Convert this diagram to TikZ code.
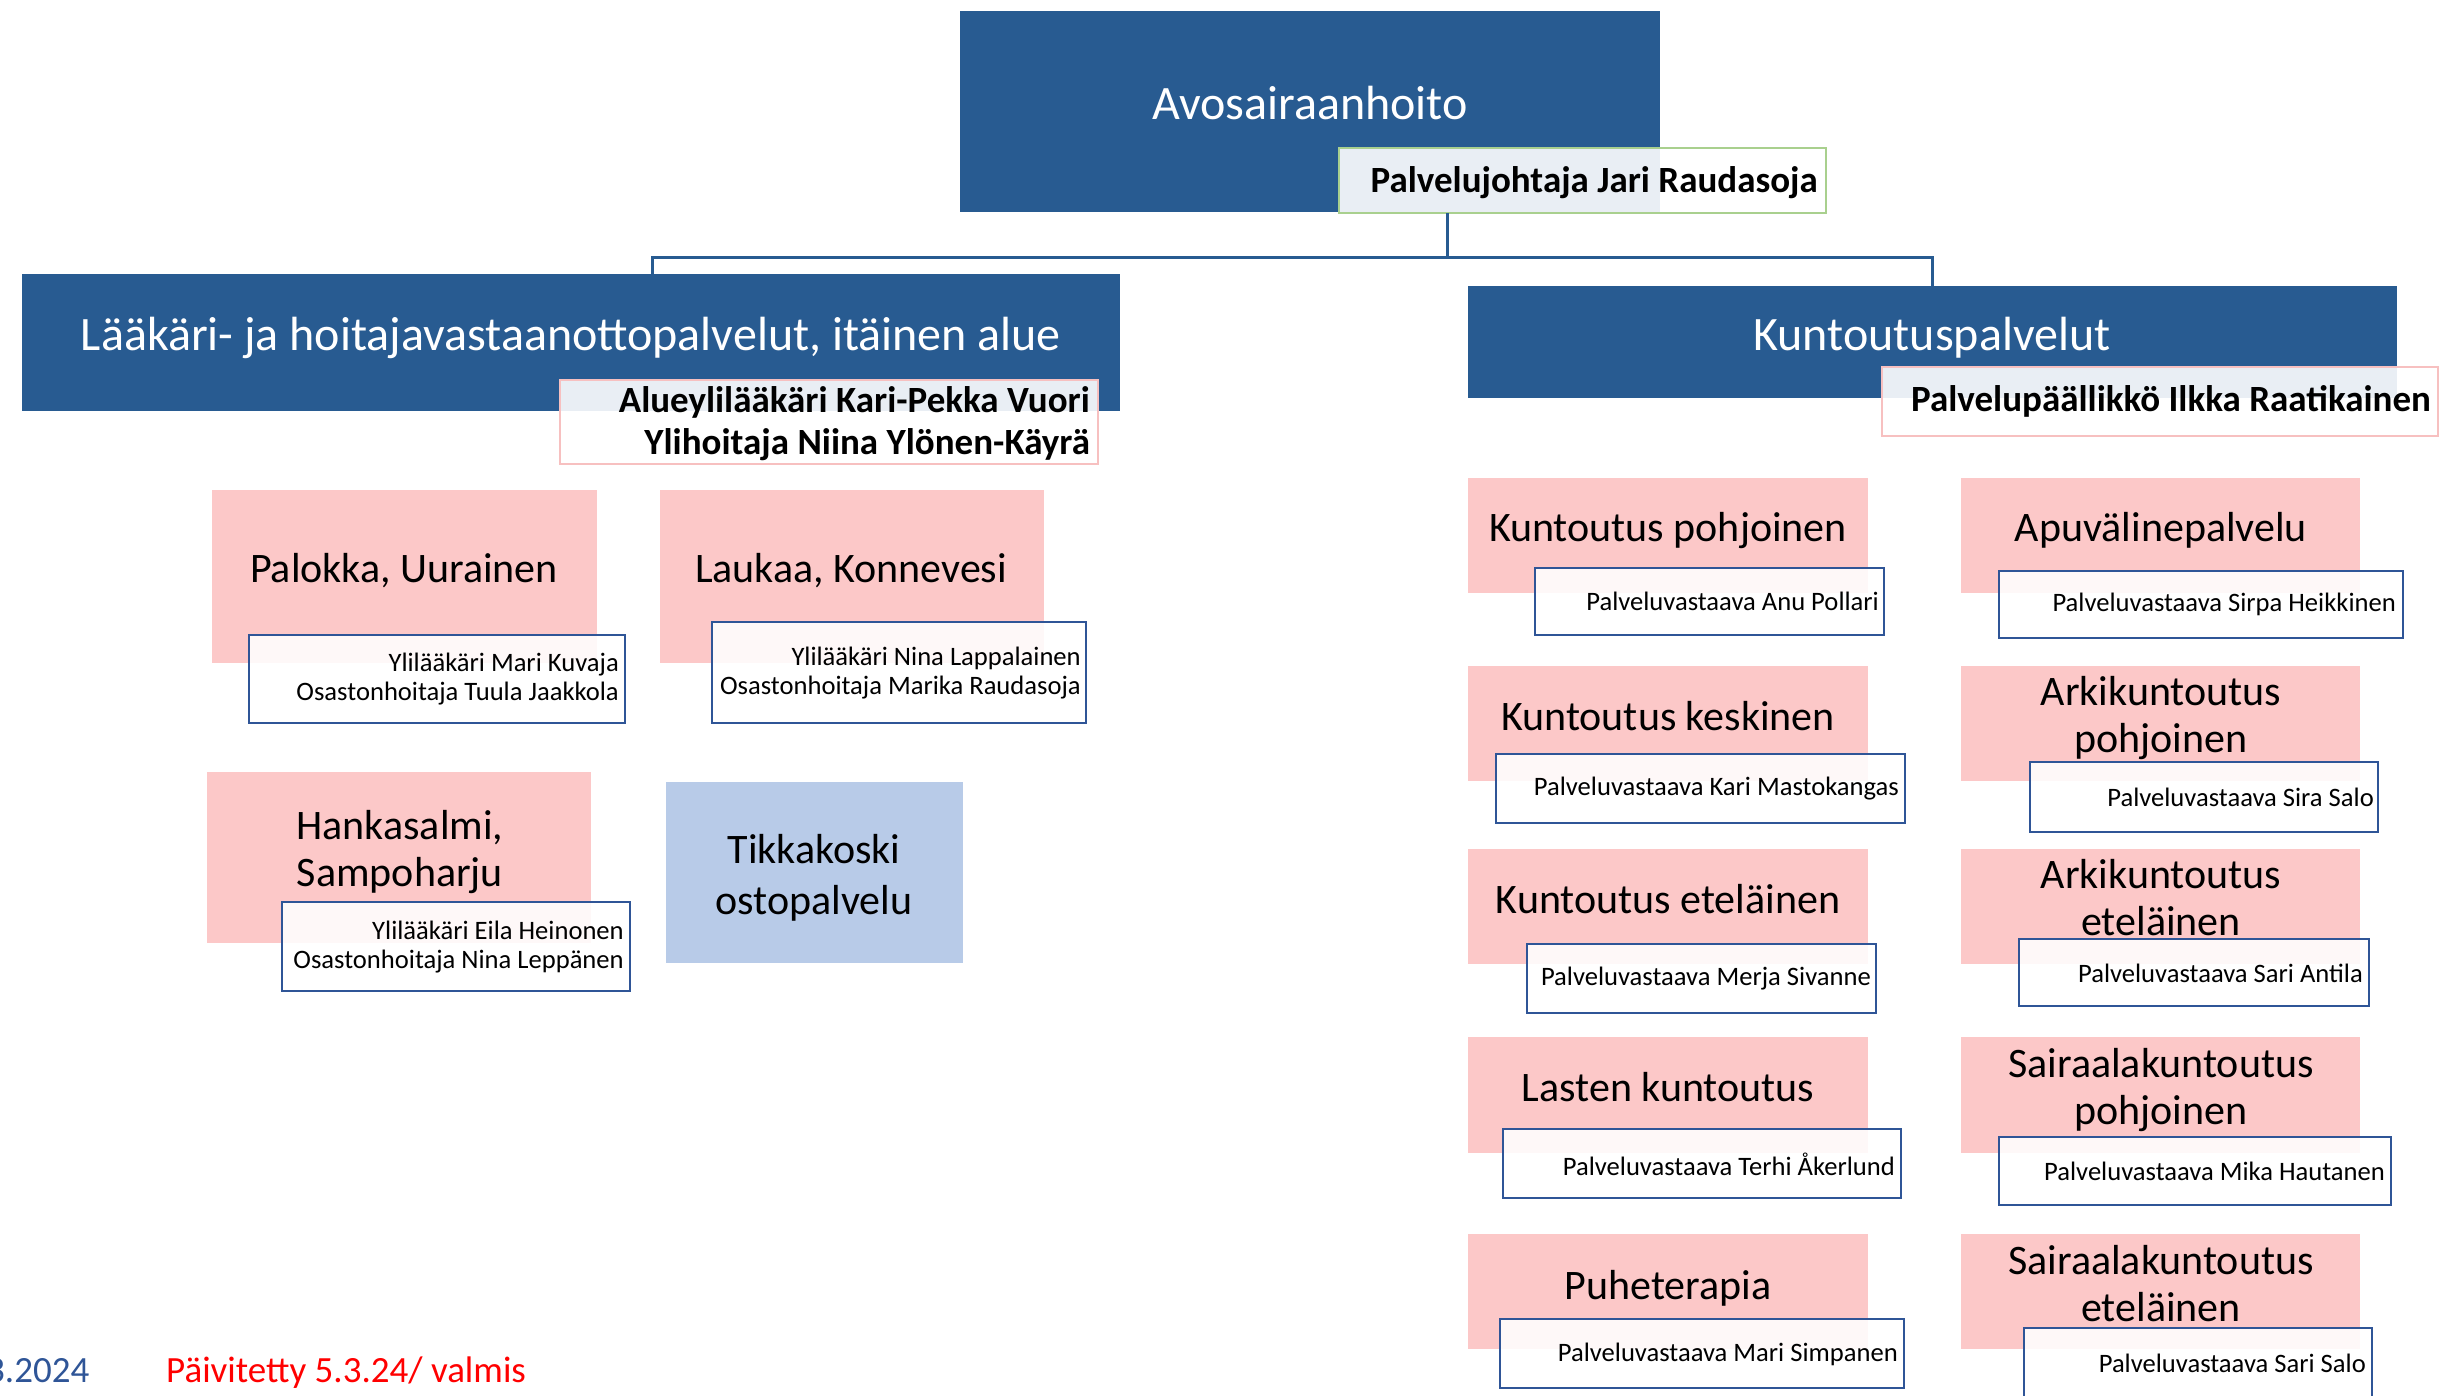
\documentclass[tikz,border=0pt]{standalone}
\usepackage{fontspec}
\setmainfont{Carlito}
\definecolor{dblue}{RGB}{40,91,145}
\definecolor{lblue}{RGB}{184,203,232}
\definecolor{pinkf}{RGB}{252,200,200}
\definecolor{pinkb}{RGB}{247,192,192}
\definecolor{greenb}{RGB}{169,208,142}
\definecolor{pbord}{RGB}{47,85,151}
\definecolor{footblue}{RGB}{47,85,151}
\definecolor{footred}{RGB}{255,0,0}
\begin{document}
\begin{tikzpicture}[x=1pt,y=-1pt,
  box/.style={anchor=north west, inner sep=0pt, outer sep=0pt},
  headbox/.style={box, fill=dblue},
  unitbox/.style={box, fill=pinkf},
  buybox/.style={box, fill=lblue},
  mgrbox/.style={box, draw=pinkb, line width=2.5pt, fill=white, fill opacity=0.9},
  topmgr/.style={box, draw=greenb, line width=2.5pt, fill=white, fill opacity=0.9},
  persbox/.style={box, draw=pbord, line width=2.5pt, fill=white, fill opacity=0.88},
  headtxt/.style={text=white, font=\fontsize{48}{56}\selectfont, inner sep=0pt, anchor=base},
  unittxt/.style={font=\fontsize{42}{47}\selectfont, align=center, inner sep=0pt},
  mgrtxt/.style={font=\fontsize{37}{42}\selectfont\bfseries, align=right, inner sep=0pt},
  perstxt/.style={font=\fontsize{26.6}{29}\selectfont, align=right, anchor=east, inner sep=0pt},
  conn/.style={draw=dblue, line width=3pt},
]
\useasboundingbox (0,0) rectangle (2439,1396);
\clip (0,0) rectangle (2439,1396);

% ---- top level
\node[headbox, minimum width=700pt, minimum height=201pt] (top) at (960,11) {};
\node[headtxt] (toptxt) at (1310,120) {Avosairaanhoito};
\node[topmgr, minimum width=487pt, minimum height=65pt] (pj) at (1339,148) {};
\node[mgrtxt, anchor=base east] (pjtxt) at (1818,193) {Palvelujohtaja Jari Raudasoja};

% ---- second level
\node[headbox, minimum width=1098pt, minimum height=137pt] (lvlL) at (22,274) {};
\node[headtxt] (lvlLtxt) at (571,351) {Lääkäri- ja hoitajavastaanottopalvelut, itäinen alue};
\node[mgrbox, minimum width=538pt, minimum height=84pt] (mgrL) at (560,380) {};
\node[mgrtxt, anchor=east] (mgrLtxt) at (1090,424) {Alueylilääkäri Kari-Pekka Vuori\\Ylihoitaja Niina Ylönen-Käyrä};

\node[headbox, minimum width=929pt, minimum height=112pt] (lvlR) at (1468,286) {};
\node[headtxt] (lvlRtxt) at (1932,351) {Kuntoutuspalvelut};
\node[mgrbox, minimum width=556pt, minimum height=69pt] (mgrR) at (1882,367) {};
\node[mgrtxt, anchor=base east] (mgrRtxt) at (2431,412) {Palvelupäällikkö Ilkka Raatikainen};

% ---- connectors
\coordinate (hub) at (1447,258);
\coordinate (ljoin) at (652,258);
\draw[conn] (pj.south -| hub) -- (hub);
\draw[conn] (lvlL.north -| ljoin) |- (hub) -| (lvlR.north);

% ---- left units
\node[unitbox, minimum width=385pt, minimum height=173pt] (palokka) at (212,490) {};
\node[unittxt, anchor=base] (palokkatxt) at (404,582) {Palokka, Uurainen};
\node[persbox, minimum width=376pt, minimum height=88pt] (palokkap) at (249,635) {};
\node[perstxt] (palokkaptxt) at (619,679) {Ylilääkäri Mari Kuvaja\\Osastonhoitaja Tuula Jaakkola};

\node[unitbox, minimum width=384pt, minimum height=173pt] (laukaa) at (660,490) {};
\node[unittxt, anchor=base] (laukaatxt) at (851,582) {Laukaa, Konnevesi};
\node[persbox, minimum width=374pt, minimum height=101pt] (laukaap) at (712,622) {};
\node[perstxt] (laukaaptxt) at (1081,673) {Ylilääkäri Nina Lappalainen\\Osastonhoitaja Marika Raudasoja};

\node[unitbox, minimum width=384pt, minimum height=171pt] (hanka) at (207,772) {};
\node[unittxt] (hankatxt) at (400,852) {Hankasalmi,\\Sampoharju};
\node[persbox, minimum width=348pt, minimum height=89pt] (hankap) at (282,902) {};
\node[perstxt] (hankaptxt) at (624,947) {Ylilääkäri Eila Heinonen\\Osastonhoitaja Nina Leppänen};

\node[buybox, minimum width=297pt, minimum height=181pt] (tikka) at (666,782) {};
\node[unittxt, font=\fontsize{42}{51}\selectfont] (tikkatxt) at (814,878) {Tikkakoski\\ostopalvelu};

% ---- right units, left column
\node[unitbox, minimum width=400pt, minimum height=115pt] (kpoh) at (1468,478) {};
\node[unittxt, anchor=base] (kpohtxt) at (1668,541) {Kuntoutus pohjoinen};
\node[persbox, minimum width=349pt, minimum height=67pt] (kpohp) at (1535,568) {};
\node[perstxt] (kpohptxt) at (1879,601) {Palveluvastaava Anu Pollari};

\node[unitbox, minimum width=400pt, minimum height=115pt] (kkes) at (1468,666) {};
\node[unittxt, anchor=base] (kkestxt) at (1668,730) {Kuntoutus keskinen};
\node[persbox, minimum width=409pt, minimum height=69pt] (kkesp) at (1496,754) {};
\node[perstxt] (kkesptxt) at (1899,789) {Palveluvastaava Kari Mastokangas};

\node[unitbox, minimum width=400pt, minimum height=115pt] (ket) at (1468,849) {};
\node[unittxt, anchor=base] (kettxt) at (1668,913) {Kuntoutus eteläinen};
\node[persbox, minimum width=349pt, minimum height=69pt] (ketp) at (1527,944) {};
\node[perstxt] (ketptxt) at (1871,979) {Palveluvastaava Merja Sivanne};

\node[unitbox, minimum width=400pt, minimum height=116pt] (lku) at (1468,1037) {};
\node[unittxt, anchor=base] (lkutxt) at (1668,1101) {Lasten kuntoutus};
\node[persbox, minimum width=398pt, minimum height=69pt] (lkup) at (1503,1129) {};
\node[perstxt] (lkuptxt) at (1895,1164) {Palveluvastaava Terhi Åkerlund};

\node[unitbox, minimum width=400pt, minimum height=115pt] (puhe) at (1468,1234) {};
\node[unittxt, anchor=base] (puhetxt) at (1668,1299) {Puheterapia};
\node[persbox, minimum width=404pt, minimum height=69pt] (puhep) at (1500,1319) {};
\node[perstxt] (puheptxt) at (1898,1354) {Palveluvastaava Mari Simpanen};

% ---- right units, right column
\node[unitbox, minimum width=399pt, minimum height=115pt] (apu) at (1961,478) {};
\node[unittxt, anchor=base] (aputxt) at (2161,541) {Apuvälinepalvelu};
\node[persbox, minimum width=404pt, minimum height=67pt] (apup) at (1999,571) {};
\node[perstxt] (apuptxt) at (2396,604) {Palveluvastaava Sirpa Heikkinen};

\node[unitbox, minimum width=399pt, minimum height=115pt] (arkp) at (1961,666) {};
\node[unittxt] (arkptxt) at (2161,718) {Arkikuntoutus\\pohjoinen};
\node[persbox, minimum width=348pt, minimum height=70pt] (arkpp) at (2030,762) {};
\node[perstxt] (arkpptxt) at (2374,797) {Palveluvastaava Sira Salo};

\node[unitbox, minimum width=399pt, minimum height=115pt] (arke) at (1961,849) {};
\node[unittxt] (arketxt) at (2161,898) {Arkikuntoutus\\eteläinen};
\node[persbox, minimum width=350pt, minimum height=67pt] (arkep) at (2019,939) {};
\node[perstxt] (arkeptxt) at (2363,973) {Palveluvastaava Sari Antila};

\node[unitbox, minimum width=399pt, minimum height=116pt] (saip) at (1961,1037) {};
\node[unittxt] (saiptxt) at (2161,1090) {Sairaalakuntoutus\\pohjoinen};
\node[persbox, minimum width=392pt, minimum height=68pt] (saipp) at (1999,1137) {};
\node[perstxt] (saipptxt) at (2385,1171) {Palveluvastaava Mika Hautanen};

\node[unitbox, minimum width=399pt, minimum height=115pt] (saie) at (1961,1234) {};
\node[unittxt] (saietxt) at (2161,1284) {Sairaalakuntoutus\\eteläinen};
\node[persbox, minimum width=348pt, minimum height=80pt] (saiep) at (2024,1328) {};
\node[perstxt] (saieptxt) at (2366,1363) {Palveluvastaava Sari Salo};

% ---- footer
\node[anchor=base west, inner sep=0pt, text=footblue, font=\fontsize{37}{42}\selectfont] (date) at (-14,1382) {3.2024};
\node[anchor=base west, inner sep=0pt, text=footred, font=\fontsize{37}{42}\selectfont] (upd) at (166,1382) {Päivitetty 5.3.24/ valmis};
\end{tikzpicture}
\end{document}
